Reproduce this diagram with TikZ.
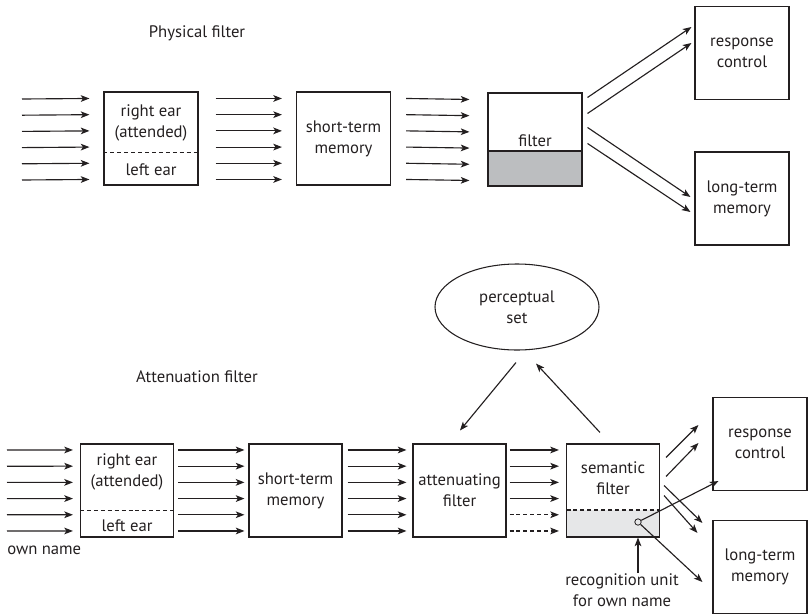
\documentclass[tikz,border=0pt]{standalone}
\usepackage{fontspec}
\setmainfont{PT Sans}
\usetikzlibrary{arrows.meta,calc,shapes.geometric}
\definecolor{ink}{HTML}{231F20}
\definecolor{darkfill}{HTML}{BCBEC0}
\definecolor{lightfill}{HTML}{E6E7E8}
\begin{document}
\begin{tikzpicture}[x=0.75pt,y=-0.75pt,
  every node/.style={text=ink, font=\fontsize{12.5}{15.75}\selectfont},
  box/.style={draw=ink, line width=0.8pt, minimum width=70.5pt, minimum height=69.75pt, inner sep=0pt, align=center},
  sbox/.style={box, minimum width=69.75pt},
  txt/.style={align=center, inner sep=0pt},
  arr/.style={draw=ink, line width=0.85pt, -{Stealth[length=6.5pt,width=5pt,inset=1.6pt]}},
  darr/.style={arr, dash pattern=on 3pt off 2.2pt},
  dline/.style={draw=ink, line width=0.8pt, dash pattern=on 3pt off 2.2pt}]
\useasboundingbox (0,0) rectangle (808,615);

% ---------- Physical filter ----------
\node[txt] (t1) at (197,33) {Physical filter};

\node[box] (b1) at (151,138.5) {};
\node[txt] (b1a) at ($(b1.north)+(0,31)$) {right ear\\(attended)};
\node[txt] (b1b) at ($(b1.south)+(0,-16)$) {left ear};
\draw[dline] ($(b1.south west)+(0,-33)$) -- ($(b1.south east)+(0,-33)$);

\node[box] (b2) at (343.5,138.5) {short-term\\memory};

\node[box, path picture={\fill[darkfill] ($(path picture bounding box.south west)+(0,-35)$) rectangle (path picture bounding box.south east);
  \draw[ink, line width=0.8pt] ($(path picture bounding box.south west)+(0,-35)$) -- ($(path picture bounding box.south east)+(0,-35)$);}] (b3) at (535,139.5) {};
\node[txt] (b3t) at ($(b3.north)+(0,48)$) {filter};

\node[box] (rc) at (742,53) {response\\control};
\node[box] (ltm) at (742,198.5) {long-term\\memory};

\foreach \i in {0,...,5}{
  \draw[arr] (22,{99+16.2*\i}) -- ($(b1.north west)+(-14,{7+16.2*\i})$);
  \draw[arr] ($(b1.north east)+(17,{7+16.2*\i})$) -- ($(b2.north west)+(-14,{7+16.2*\i})$);
  \draw[arr] ($(b2.north east)+(15,{7+16.2*\i})$) -- ($(b3.north west)+(-18,{7+16.2*\i})$);
}
\draw[arr] ($(b3.north east)+(5,5)$) -- ($(rc.west)+(-3,-26)$);
\draw[arr] ($(b3.north east)+(5,21)$) -- ($(rc.west)+(-3,-10)$);
\draw[arr] ($(b3.north east)+(5,35)$) -- ($(ltm.west)+(-4,-1.5)$);
\draw[arr] ($(b3.north east)+(5,51)$) -- ($(ltm.west)+(-4,13.5)$);

% ---------- Attenuation filter ----------
\node[draw=ink, line width=0.8pt, ellipse, minimum width=123pt, minimum height=64.5pt, inner sep=0pt, align=center] (ps) at (517,307) {perceptual\\set};
\node[txt] (t2) at (197,377) {Attenuation filter};

\node[sbox] (c1) at (127,490.5) {};
\node[txt] (c1a) at ($(c1.north)+(0,28)$) {right ear\\(attended)};
\node[txt] (c1b) at ($(c1.south)+(0,-12)$) {left ear};
\draw[dline] ($(c1.south west)+(0,-27)$) -- ($(c1.south east)+(0,-27)$);
\node[txt, anchor=west] (own) at (7,550) {own name};

\node[sbox] (c2) at (295.5,490.5) {short-term\\memory};
\node[sbox] (c3) at (459.5,490.5) {attenuating\\filter};

\node[sbox, path picture={\fill[lightfill] ($(path picture bounding box.south west)+(0,-27)$) rectangle (path picture bounding box.south east);
  \draw[ink, line width=0.8pt, dash pattern=on 3pt off 2.2pt] ($(path picture bounding box.south west)+(0,-27)$) -- ($(path picture bounding box.south east)+(0,-27)$);}] (c4) at (613,490.5) {};
\node[txt] (c4t) at ($(c4.north)+(0,35)$) {semantic\\filter};
\node[draw=ink, line width=0.6pt, circle, inner sep=0pt, minimum size=4.8pt] (ru) at (638,522) {};

\node[box] (rc2) at (760,444) {response\\control};
\node[box] (ltm2) at (760,567) {long-term\\memory};

\node[txt] (rt) at (622,590) {recognition unit\\for own name};

\foreach \i in {0,...,5}{
  \draw[arr] (7,{450+16.2*\i}) -- ($(c1.north west)+(-7,{6.5+16.2*\i})$);
  \draw[arr] ($(c1.north east)+(4,{6.5+16.2*\i})$) -- ($(c2.north west)+(-4,{6.5+16.2*\i})$);
  \draw[arr] ($(c2.north east)+(5,{6.5+16.2*\i})$) -- ($(c3.north west)+(-6,{6.5+16.2*\i})$);
}
\foreach \i in {0,...,3}{
  \draw[arr] ($(c3.north east)+(3,{6.5+16.2*\i})$) -- ($(c4.north west)+(-7,{6.5+16.2*\i})$);
}
\foreach \i in {4,5}{
  \draw[darr] ($(c3.north east)+(3,{6.5+16.2*\i})$) -- ($(c4.north west)+(-7,{6.5+16.2*\i})$);
}

\draw[arr] ($(ps.south)+(-1,12)$) -- ($(c3.north)+(0.5,-13)$);
\draw[arr] ($(c4.north)+(-13,-11)$) -- ($(ps.south)+(19,13)$);

\draw[arr] ($(c4.north east)+(6,14)$) -- ($(rc2.west)+(-14,-19)$);
\draw[arr] ($(c4.north east)+(6,33)$) -- ($(rc2.west)+(-14,-1)$);
\draw[arr] ($(c4.east)+(4,-5)$) -- ($(ltm2.north west)+(-10,3)$);
\draw[arr] ($(c4.east)+(4,5)$) -- ($(ltm2.north west)+(-15,13)$);

\draw[arr] (ru) -- ($(rc2.south west)+(6,-10)$);
\draw[arr] (ru) -- ($(ltm2.west)+(-10,15)$);
\draw[arr] (rt.north -| ru) -- (ru |- c4.south);
\end{tikzpicture}
\end{document}
